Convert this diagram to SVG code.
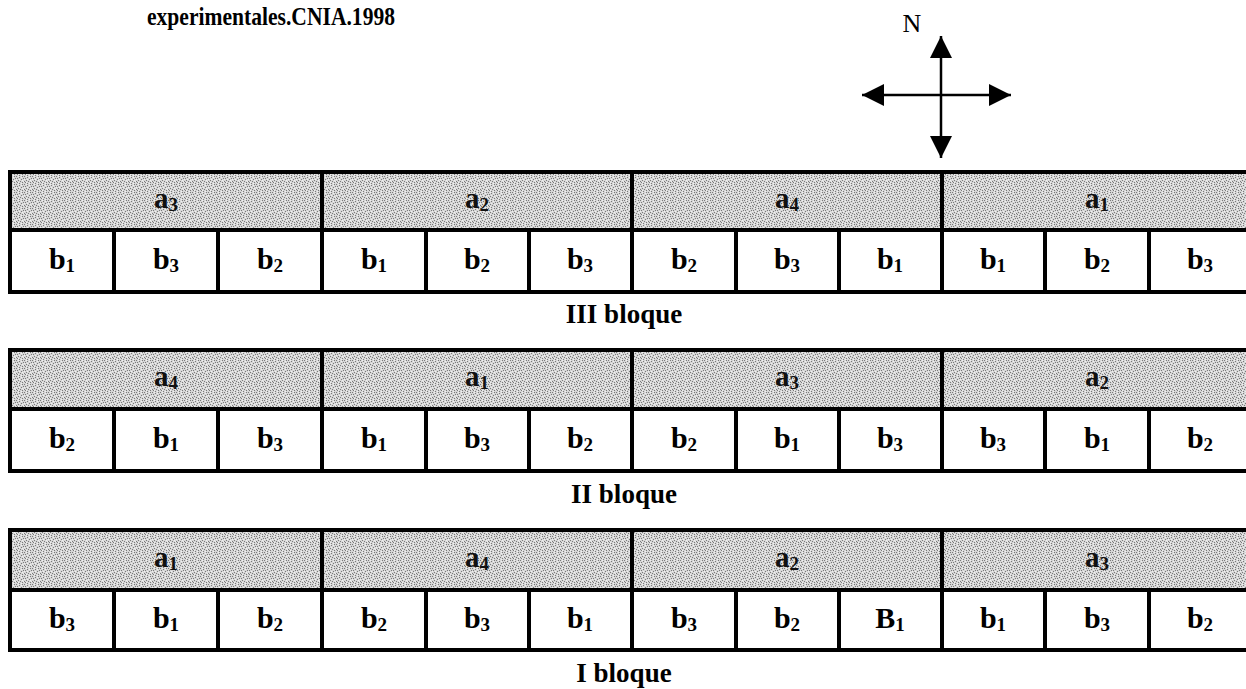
<svg xmlns="http://www.w3.org/2000/svg" width="1246" height="689" viewBox="0 0 1246 689">
<style>
.bg{fill:#ffffff}
.main{fill:url(#stipple);stroke:#000;stroke-width:4}
.sub{fill:#ffffff;stroke:#000;stroke-width:4}
.lab{font-family:"Liberation Serif",serif;font-weight:bold;font-size:30px;text-anchor:middle;fill:#000}
.alab{font-family:"Liberation Serif",serif;font-weight:bold;font-size:29px;text-anchor:middle;fill:#111}
.s{font-size:19px}
.blk{font-family:"Liberation Serif",serif;font-weight:bold;font-size:27px;text-anchor:middle;fill:#000}
.title{font-family:"Liberation Serif",serif;font-weight:bold;font-size:25px;fill:#000}
.n{font-family:"Liberation Serif",serif;font-size:26px;text-anchor:middle;fill:#000}
.arr{stroke:#000;stroke-width:2.5;fill:none;marker-start:url(#ah);marker-end:url(#ah)}
</style>
<defs>
<pattern id="stipple" width="8" height="8" patternUnits="userSpaceOnUse">
<rect width="8" height="8" fill="#d6d6d6"/>
<g fill="#7a7a7a">
<rect x="0" y="0" width="1" height="1"/><rect x="3" y="1" width="1" height="1"/><rect x="6" y="0" width="1" height="1"/>
<rect x="1" y="2" width="1" height="1"/><rect x="5" y="3" width="1" height="1"/><rect x="7" y="2" width="1" height="1"/>
<rect x="2" y="4" width="1" height="1"/><rect x="4" y="5" width="1" height="1"/><rect x="0" y="5" width="1" height="1"/>
<rect x="6" y="6" width="1" height="1"/><rect x="3" y="7" width="1" height="1"/><rect x="1" y="6" width="1" height="1"/>
</g>
<g fill="#f0f0f0">
<rect x="2" y="0" width="1" height="1"/><rect x="5" y="1" width="1" height="1"/><rect x="0" y="3" width="1" height="1"/>
<rect x="3" y="3" width="1" height="1"/><rect x="6" y="4" width="1" height="1"/><rect x="2" y="6" width="1" height="1"/>
<rect x="5" y="7" width="1" height="1"/><rect x="7" y="5" width="1" height="1"/>
</g>
</pattern>
<marker id="ah" viewBox="0 0 22 22" refX="22" refY="11" markerWidth="22" markerHeight="22" markerUnits="userSpaceOnUse" orient="auto-start-reverse">
<path d="M0,0 L22,11 L0,22 z" fill="#000"/>
</marker>
</defs>
<rect class="bg" x="0" y="0" width="1246" height="689"/>

<text class="title" x="147" y="25" textLength="248" lengthAdjust="spacingAndGlyphs">experimentales.CNIA.1998</text>

<g id="compass">
<text class="n" x="912" y="32">N</text>
</g>
<g id="connectors">
<line class="arr" x1="941" y1="158" x2="941" y2="36"/>
<line class="arr" x1="862" y1="95" x2="1011" y2="95"/>
</g>

<!-- Block III -->
<g id="block3">
<g id="b3-a3"><rect class="main" x="10" y="172" width="312" height="58"/><text class="alab" x="166" y="208">a<tspan class="s" dy="3">3</tspan></text></g>
<g id="b3-a2"><rect class="main" x="322" y="172" width="310" height="58"/><text class="alab" x="477" y="208">a<tspan class="s" dy="3">2</tspan></text></g>
<g id="b3-a4"><rect class="main" x="632" y="172" width="310" height="58"/><text class="alab" x="787" y="208">a<tspan class="s" dy="3">4</tspan></text></g>
<g id="b3-a1"><rect class="main" x="942" y="172" width="312" height="58"/><text class="alab" x="1097" y="208">a<tspan class="s" dy="3">1</tspan></text></g>
<g id="b3-c1"><rect class="sub" x="10" y="230" width="104" height="62"/><text class="lab" x="62" y="269">b<tspan class="s" dy="3">1</tspan></text></g>
<g id="b3-c2"><rect class="sub" x="114" y="230" width="104" height="62"/><text class="lab" x="166" y="269">b<tspan class="s" dy="3">3</tspan></text></g>
<g id="b3-c3"><rect class="sub" x="218" y="230" width="104" height="62"/><text class="lab" x="270" y="269">b<tspan class="s" dy="3">2</tspan></text></g>
<g id="b3-c4"><rect class="sub" x="322" y="230" width="104" height="62"/><text class="lab" x="374" y="269">b<tspan class="s" dy="3">1</tspan></text></g>
<g id="b3-c5"><rect class="sub" x="426" y="230" width="103" height="62"/><text class="lab" x="477" y="269">b<tspan class="s" dy="3">2</tspan></text></g>
<g id="b3-c6"><rect class="sub" x="529" y="230" width="103" height="62"/><text class="lab" x="580" y="269">b<tspan class="s" dy="3">3</tspan></text></g>
<g id="b3-c7"><rect class="sub" x="632" y="230" width="104" height="62"/><text class="lab" x="684" y="269">b<tspan class="s" dy="3">2</tspan></text></g>
<g id="b3-c8"><rect class="sub" x="736" y="230" width="103" height="62"/><text class="lab" x="787" y="269">b<tspan class="s" dy="3">3</tspan></text></g>
<g id="b3-c9"><rect class="sub" x="839" y="230" width="103" height="62"/><text class="lab" x="890" y="269">b<tspan class="s" dy="3">1</tspan></text></g>
<g id="b3-c10"><rect class="sub" x="942" y="230" width="103" height="62"/><text class="lab" x="993" y="269">b<tspan class="s" dy="3">1</tspan></text></g>
<g id="b3-c11"><rect class="sub" x="1045" y="230" width="104" height="62"/><text class="lab" x="1097" y="269">b<tspan class="s" dy="3">2</tspan></text></g>
<g id="b3-c12"><rect class="sub" x="1149" y="230" width="105" height="62"/><text class="lab" x="1200" y="269">b<tspan class="s" dy="3">3</tspan></text></g>
<text class="blk" x="624" y="323">III bloque</text>
</g>

<!-- Block II -->
<g id="block2">
<g id="b2-a4"><rect class="main" x="10" y="350" width="312" height="59"/><text class="alab" x="166" y="386">a<tspan class="s" dy="3">4</tspan></text></g>
<g id="b2-a1"><rect class="main" x="322" y="350" width="310" height="59"/><text class="alab" x="477" y="386">a<tspan class="s" dy="3">1</tspan></text></g>
<g id="b2-a3"><rect class="main" x="632" y="350" width="310" height="59"/><text class="alab" x="787" y="386">a<tspan class="s" dy="3">3</tspan></text></g>
<g id="b2-a2"><rect class="main" x="942" y="350" width="312" height="59"/><text class="alab" x="1097" y="386">a<tspan class="s" dy="3">2</tspan></text></g>
<g id="b2-c1"><rect class="sub" x="10" y="409" width="104" height="62"/><text class="lab" x="62" y="448">b<tspan class="s" dy="3">2</tspan></text></g>
<g id="b2-c2"><rect class="sub" x="114" y="409" width="104" height="62"/><text class="lab" x="166" y="448">b<tspan class="s" dy="3">1</tspan></text></g>
<g id="b2-c3"><rect class="sub" x="218" y="409" width="104" height="62"/><text class="lab" x="270" y="448">b<tspan class="s" dy="3">3</tspan></text></g>
<g id="b2-c4"><rect class="sub" x="322" y="409" width="104" height="62"/><text class="lab" x="374" y="448">b<tspan class="s" dy="3">1</tspan></text></g>
<g id="b2-c5"><rect class="sub" x="426" y="409" width="103" height="62"/><text class="lab" x="477" y="448">b<tspan class="s" dy="3">3</tspan></text></g>
<g id="b2-c6"><rect class="sub" x="529" y="409" width="103" height="62"/><text class="lab" x="580" y="448">b<tspan class="s" dy="3">2</tspan></text></g>
<g id="b2-c7"><rect class="sub" x="632" y="409" width="104" height="62"/><text class="lab" x="684" y="448">b<tspan class="s" dy="3">2</tspan></text></g>
<g id="b2-c8"><rect class="sub" x="736" y="409" width="103" height="62"/><text class="lab" x="787" y="448">b<tspan class="s" dy="3">1</tspan></text></g>
<g id="b2-c9"><rect class="sub" x="839" y="409" width="103" height="62"/><text class="lab" x="890" y="448">b<tspan class="s" dy="3">3</tspan></text></g>
<g id="b2-c10"><rect class="sub" x="942" y="409" width="103" height="62"/><text class="lab" x="993" y="448">b<tspan class="s" dy="3">3</tspan></text></g>
<g id="b2-c11"><rect class="sub" x="1045" y="409" width="104" height="62"/><text class="lab" x="1097" y="448">b<tspan class="s" dy="3">1</tspan></text></g>
<g id="b2-c12"><rect class="sub" x="1149" y="409" width="105" height="62"/><text class="lab" x="1200" y="448">b<tspan class="s" dy="3">2</tspan></text></g>
<text class="blk" x="624" y="503">II bloque</text>
</g>

<!-- Block I -->
<g id="block1">
<g id="b1-a1"><rect class="main" x="10" y="530" width="312" height="60"/><text class="alab" x="166" y="567">a<tspan class="s" dy="3">1</tspan></text></g>
<g id="b1-a4"><rect class="main" x="322" y="530" width="310" height="60"/><text class="alab" x="477" y="567">a<tspan class="s" dy="3">4</tspan></text></g>
<g id="b1-a2"><rect class="main" x="632" y="530" width="310" height="60"/><text class="alab" x="787" y="567">a<tspan class="s" dy="3">2</tspan></text></g>
<g id="b1-a3"><rect class="main" x="942" y="530" width="312" height="60"/><text class="alab" x="1097" y="567">a<tspan class="s" dy="3">3</tspan></text></g>
<g id="b1-c1"><rect class="sub" x="10" y="590" width="104" height="60"/><text class="lab" x="62" y="628">b<tspan class="s" dy="3">3</tspan></text></g>
<g id="b1-c2"><rect class="sub" x="114" y="590" width="104" height="60"/><text class="lab" x="166" y="628">b<tspan class="s" dy="3">1</tspan></text></g>
<g id="b1-c3"><rect class="sub" x="218" y="590" width="104" height="60"/><text class="lab" x="270" y="628">b<tspan class="s" dy="3">2</tspan></text></g>
<g id="b1-c4"><rect class="sub" x="322" y="590" width="104" height="60"/><text class="lab" x="374" y="628">b<tspan class="s" dy="3">2</tspan></text></g>
<g id="b1-c5"><rect class="sub" x="426" y="590" width="103" height="60"/><text class="lab" x="477" y="628">b<tspan class="s" dy="3">3</tspan></text></g>
<g id="b1-c6"><rect class="sub" x="529" y="590" width="103" height="60"/><text class="lab" x="580" y="628">b<tspan class="s" dy="3">1</tspan></text></g>
<g id="b1-c7"><rect class="sub" x="632" y="590" width="104" height="60"/><text class="lab" x="684" y="628">b<tspan class="s" dy="3">3</tspan></text></g>
<g id="b1-c8"><rect class="sub" x="736" y="590" width="103" height="60"/><text class="lab" x="787" y="628">b<tspan class="s" dy="3">2</tspan></text></g>
<g id="b1-c9"><rect class="sub" x="839" y="590" width="103" height="60"/><text class="lab" x="890" y="628">B<tspan class="s" dy="3">1</tspan></text></g>
<g id="b1-c10"><rect class="sub" x="942" y="590" width="103" height="60"/><text class="lab" x="993" y="628">b<tspan class="s" dy="3">1</tspan></text></g>
<g id="b1-c11"><rect class="sub" x="1045" y="590" width="104" height="60"/><text class="lab" x="1097" y="628">b<tspan class="s" dy="3">3</tspan></text></g>
<g id="b1-c12"><rect class="sub" x="1149" y="590" width="105" height="60"/><text class="lab" x="1200" y="628">b<tspan class="s" dy="3">2</tspan></text></g>
<text class="blk" x="624" y="682">I bloque</text>
</g>
</svg>
